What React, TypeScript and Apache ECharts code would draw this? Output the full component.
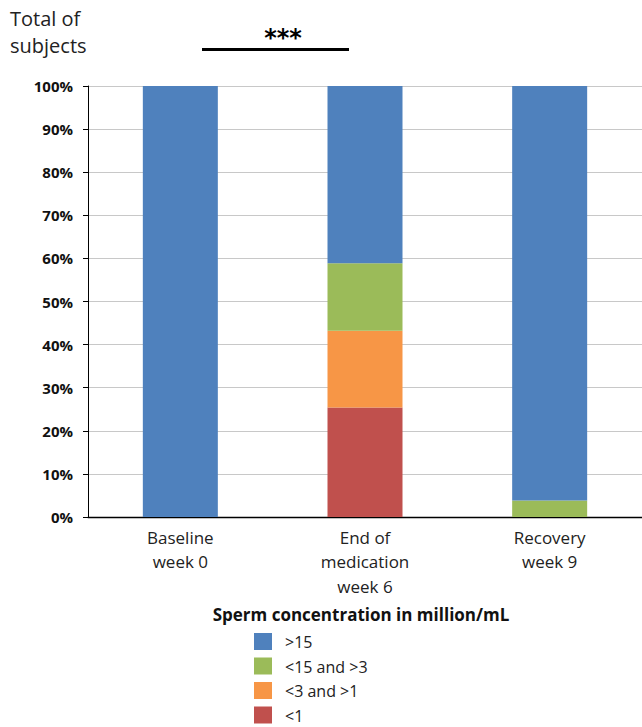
import React, { useEffect, useRef } from "react";
import * as echarts from "echarts";

const categories = ["Baseline\nweek 0", "End of\nmedication\nweek 6", "Recovery\nweek 9"];
const seriesNames = ["<1", "<3 and >1", "<15 and >3", ">15"];
const lt1 = [0, 25.4, 0];
const lt3gt1 = [0, 17.8, 0];
const lt15gt3 = [0, 15.7, 3.8];
const gt15 = [100, 41.1, 96.2];
const seriesColors = ["#C0504D", "#F79646", "#9BBB59", "#4F81BD"];
const yTicks = [0, 10, 20, 30, 40, 50, 60, 70, 80, 90, 100];

const FONT = "Open Sans";

export default function App() {
  const ref = useRef<HTMLDivElement>(null);
  useEffect(() => {
    if (!ref.current) return;
    const chart = echarts.init(ref.current, undefined, { renderer: "svg" });
    const values = [lt1, lt3gt1, lt15gt3, gt15];
    const legendOrder = [3, 2, 1, 0];
    const legendGraphics: any[] = [];
    legendOrder.forEach((si, k) => {
      const y = 633 + k * 24.5;
      legendGraphics.push({
        type: "rect",
        shape: { x: 254, y, width: 18, height: 17 },
        style: { fill: seriesColors[si] },
      });
      legendGraphics.push({
        type: "text",
        x: 285,
        y: y + 9,
        style: { text: seriesNames[si], fontSize: 16, fill: "#222", fontFamily: FONT, verticalAlign: "middle" },
      });
    });
    chart.setOption({
      animation: false,
      textStyle: { fontFamily: FONT },
      grid: { left: 88, right: -4, top: 86, bottom: 210, containLabel: false },
      xAxis: {
        type: "category",
        data: categories,
        axisLine: { lineStyle: { color: "#000", width: 1.3 } },
        axisTick: { show: false },
        axisLabel: { color: "#222", fontSize: 17, lineHeight: 24.5, margin: 8, fontFamily: FONT },
      },
      yAxis: {
        type: "value",
        min: yTicks[0],
        max: yTicks[yTicks.length - 1],
        interval: 10,
        axisLine: { show: true, lineStyle: { color: "#000", width: 1 } },
        axisTick: { show: true, length: 5, lineStyle: { color: "#000" } },
        splitLine: { lineStyle: { color: "#c8c8c8", width: 1 } },
        axisLabel: {
          formatter: "{value}%",
          fontWeight: "bold",
          fontSize: 15,
          color: "#111",
          margin: 15,
          fontFamily: FONT,
        },
      },
      graphic: [
        {
          type: "text",
          left: 10,
          top: 5,
          style: { text: "Total of\nsubjects", fontSize: 20, lineHeight: 27, fill: "#222", fontFamily: FONT },
        },
        {
          type: "line",
          shape: { x1: 202, y1: 49.5, x2: 349, y2: 49.5 },
          style: { stroke: "#000", lineWidth: 3 },
        },
        {
          type: "text",
          x: 283,
          y: 38,
          style: { text: "***", fontSize: 24, fontWeight: "bold", fill: "#000", align: "center", verticalAlign: "middle", fontFamily: "DejaVu Sans" },
        },
        {
          type: "text",
          x: 361,
          y: 614,
          style: { text: "Sperm concentration in million/mL", fontSize: 17, fontWeight: "bold", fill: "#111", align: "center", verticalAlign: "middle", fontFamily: FONT },
        },
        ...legendGraphics,
      ],
      series: seriesNames.map((name, i) => ({
        name,
        type: "bar",
        stack: "total",
        barWidth: 75,
        data: values[i],
        itemStyle: { color: seriesColors[i] },
      })),
    });
    return () => chart.dispose();
  }, []);
  return (
    <div
      ref={ref}
      style={{ position: "fixed", left: 0, top: 0, width: 642, height: 727, background: "#fff" }}
    />
  );
}
